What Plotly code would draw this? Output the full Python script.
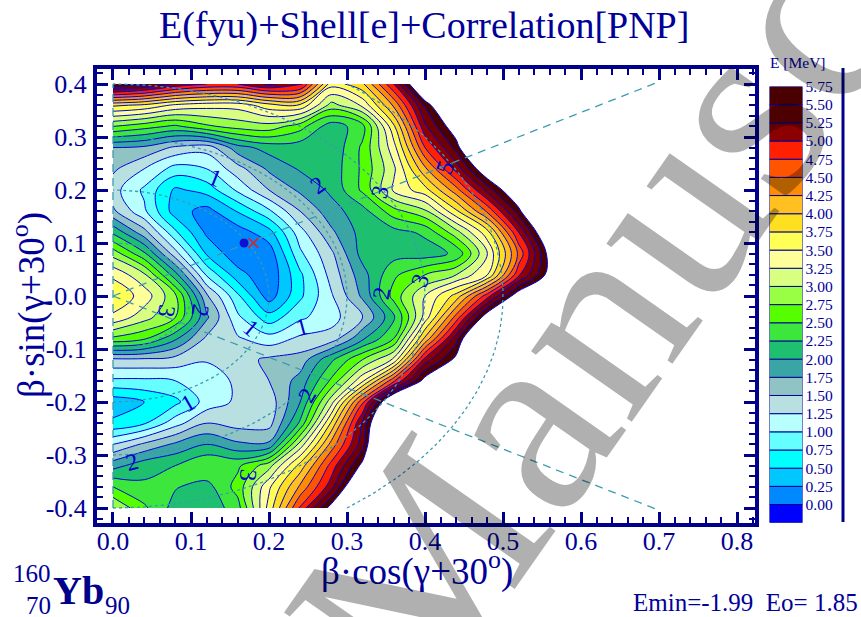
import numpy as np
import plotly.graph_objects as go

W, H = 861, 617
NAVY = "#00008b"
TXT = "#000099"
FONT = "Liberation Serif"

# Grid of the energy surface (columns by x, from y=+0.40 down to y=-0.40)
y_vals = [0.40, 0.36, 0.32, 0.28, 0.24, 0.20, 0.16, 0.12, 0.08, 0.04, 0.0, -0.04, -0.08, -0.12, -0.16, -0.20, -0.24, -0.28, -0.32, -0.36, -0.40]
x_vals = [0.0, 0.04, 0.08, 0.12, 0.16, 0.20, 0.24, 0.28, 0.32, 0.36, 0.40, 0.44, 0.48, 0.52, 0.56, 0.60]
e_x00 = [5.75, 3.8, 2.75, 1.75, 1.55, 1.35, 1.55, 2.2, 2.9, 3.45, 3.7, 3.45, 2.7, 1.45, 0.95, 0.35, 0.55, 1.25, 1.9, 2.5, 3.0]
e_x04 = [5.55, 3.7, 2.6, 1.7, 1.25, 0.95, 1.05, 1.6, 2.3, 3.05, 3.4, 3.1, 2.55, 1.45, 0.95, 0.5, 0.72, 1.55, 2.15, 2.3, 2.55]
e_x08 = [5.2, 3.45, 2.45, 1.45, 0.9, 0.45, 0.37, 0.8, 1.35, 2.1, 2.8, 2.75, 2.05, 1.4, 1.0, 0.68, 1.15, 1.8, 2.25, 2.27, 2.15]
e_x12 = [5.0, 3.35, 2.7, 1.35, 1.0, 0.6, 0.15, 0.2, 0.47, 0.97, 1.55, 1.8, 1.45, 1.28, 1.05, 1.1, 1.5, 2.0, 2.5, 2.15, 2.05]
e_x16 = [5.0, 3.35, 2.85, 1.9, 1.4, 1.05, 0.52, 0.12, 0.07, 0.35, 0.8, 1.05, 1.28, 1.4, 1.32, 1.3, 1.4, 1.8, 2.45, 2.6, 2.4]
e_x20 = [5.3, 3.65, 2.9, 2.1, 1.8, 1.5, 0.95, 0.4, 0.1, 0.05, 0.12, 0.6, 1.1, 1.55, 1.5, 1.35, 1.4, 1.8, 2.9, 3.45, 3.6]
e_x24 = [5.1, 3.7, 2.6, 2.1, 2.03, 1.8, 1.5, 1.15, 0.95, 0.7, 0.7, 0.95, 1.3, 1.6, 1.85, 2.0, 2.3, 3.1, 3.85, 4.3, 4.8]
e_x28 = [3.6, 2.9, 2.1, 2.05, 2.1, 2.05, 1.9, 1.7, 1.45, 1.35, 1.22, 1.15, 1.35, 2.2, 2.55, 3.15, 3.8, 4.35, 4.85, 5.15, 5.9]
e_x32 = [3.95, 3.3, 2.4, 2.55, 2.55, 2.55, 2.15, 2.1, 2.1, 1.9, 1.8, 1.5, 1.95, 2.75, 3.45, 4.7, 5.3, 5.4, 5.85, 6.5, 7.2]
e_x36 = [5.0, 4.3, 3.7, 3.4, 3.2, 3.3, 2.65, 2.15, 2.15, 2.45, 2.6, 2.2, 2.5, 3.3, 4.7, 6.4, 7.0, 7.5, 8.0, 8.5, 9.0]
e_x40 = [6.5, 5.55, 5.2, 4.75, 4.2, 3.65, 2.95, 2.3, 2.12, 2.75, 3.25, 3.35, 4.05, 5.1, 5.9, 7.0, 8.0, 8.5, 9.0, 9.5, 10.0]
e_x44 = [8.0, 6.6, 6.0, 5.6, 5.1, 4.4, 3.7, 2.9, 2.3, 3.0, 3.85, 4.6, 5.4, 5.85, 6.8, 8.0, 9.0, 9.5, 10.0, 10.5, 11.0]
e_x48 = [10.0, 9.0, 8.0, 7.0, 6.1, 5.35, 4.55, 3.65, 3.25, 3.5, 4.9, 6.0, 7.0, 8.0, 9.0, 10.0, 11.0, 11.0, 11.0, 11.0, 11.0]
e_x52 = [11.0, 11.0, 10.0, 9.0, 8.0, 6.2, 5.65, 5.0, 4.55, 4.95, 6.0, 7.0, 8.0, 9.0, 10.0, 11.0, 11.0, 11.0, 11.0, 11.0, 11.0]
e_x56 = [11.0, 11.0, 11.0, 11.0, 10.0, 8.0, 7.0, 6.3, 5.9, 5.9, 7.0, 8.0, 9.0, 10.0, 11.0, 11.0, 11.0, 11.0, 11.0, 11.0, 11.0]
e_x60 = [11.0, 11.0, 11.0, 11.0, 11.0, 10.0, 9.0, 8.0, 8.0, 8.0, 9.0, 10.0, 11.0, 11.0, 11.0, 11.0, 11.0, 11.0, 11.0, 11.0, 11.0]
columns = [e_x00, e_x04, e_x08, e_x12, e_x16, e_x20, e_x24, e_x28, e_x32, e_x36, e_x40, e_x44, e_x48, e_x52, e_x56, e_x60]

# Colour bands, lowest (below 0.00) to highest (5.50-5.75), then white beyond
band_colors = ["#0000ff", "#0088ff", "#00c8ff", "#00ffff", "#66ffff", "#b8ffff", "#b8e0e0", "#90c4c4",
               "#3aa5a5", "#1fbf70", "#3ce63c", "#55ff00", "#99ff44", "#d8ff80", "#ffff99", "#ffff55",
               "#ffe020", "#ffc020", "#ff8c00", "#ff5500", "#ff2000", "#8b0000", "#700000", "#4a0000"]
colorbar_labels = ["0.00", "0.25", "0.50", "0.75", "1.00", "1.25", "1.50", "1.75", "2.00", "2.25", "2.50", "2.75",
                   "3.00", "3.25", "3.50", "3.75", "4.00", "4.25", "4.50", "4.75", "5.00", "5.25", "5.50", "5.75"]
colorbar_vals = [float(s) for s in colorbar_labels]

x_ticks = [0.0, 0.1, 0.2, 0.3, 0.4, 0.5, 0.6, 0.7, 0.8]
x_tick_text = ["0.0", "0.1", "0.2", "0.3", "0.4", "0.5", "0.6", "0.7", "0.8"]
y_ticks = [-0.4, -0.3, -0.2, -0.1, 0.0, 0.1, 0.2, 0.3, 0.4]
y_tick_text = ["-0.4", "-0.3", "-0.2", "-0.1", "0.0", "0.1", "0.2", "0.3", "0.4"]

arc_betas = [0.1, 0.2, 0.3, 0.4, 0.5]
ray_angles = [30, -30]
ray_length = 0.808

min_point = [0.168, 0.100]
cross_point = [0.180, 0.100]

# Where the white area meets the edge of the grid
white_edge_x = [0.385, 0.60, 0.60, 0.285]
white_edge_y = [0.40, 0.40, -0.40, -0.40]

# Contour label: text, x, y, rotation
contour_labels = [
    ("1", 0.131, 0.223, 22), ("2", 0.263, 0.209, -35), ("3", 0.342, 0.196, -75), ("5", 0.426, 0.243, -70),
    ("2", 0.344, 0.006, -80), ("3", 0.394, 0.030, -70), ("1", 0.177, -0.060, 40), ("1", 0.242, -0.058, -15),
    ("3", 0.069, -0.028, 100), ("2", 0.112, -0.028, 100), ("1", 0.096, -0.202, -30), ("2", 0.249, -0.187, -60),
    ("2", 0.024, -0.313, -15), ("3", 0.173, -0.338, 95),
]

fig = go.Figure()

# The scale runs background, one colour per band, then the colour beyond the last level
fills = ["#ffffff"] + band_colors + ["#ffffff"]
scale = [[k / (len(fills) - 1), c] for k, c in enumerate(fills)]
fig.add_trace(go.Contour(
    x=x_vals, y=y_vals, z=np.array(columns).T.tolist(),
    autocontour=False,
    contours=dict(start=-0.25, end=5.75, size=0.25, coloring="fill", showlabels=False),
    colorscale=scale, showscale=False,
    line=dict(color="#0000dd", width=1, smoothing=1.0),
    hoverinfo="skip",
))
fig.add_trace(go.Scatter(x=white_edge_x, y=white_edge_y, mode="lines",
                         line=dict(color="#ffffff", width=2.5), hoverinfo="skip"))

GRID = "#3b9bb0"
for b in arc_betas:
    limit = np.arcsin(min(1.0, 0.4 / b))
    t = np.linspace(-limit, limit, 121)
    fig.add_trace(go.Scatter(x=b * np.cos(t), y=b * np.sin(t), mode="lines",
                             line=dict(color=GRID, width=1.3, dash="3px,3px"), hoverinfo="skip"))
for a in ray_angles:
    r = np.array([0.0, ray_length])
    fig.add_trace(go.Scatter(x=r * np.cos(np.radians(a)), y=r * np.sin(np.radians(a)), mode="lines",
                             line=dict(color=GRID, width=1.3, dash="8px,6px"), hoverinfo="skip"))
fig.add_trace(go.Scatter(x=[0, 0], y=[-0.4, 0.4], mode="lines",
                         line=dict(color=GRID, width=1.3, dash="8px,6px"), hoverinfo="skip"))

fig.add_trace(go.Scatter(x=[min_point[0]], y=[min_point[1]], mode="markers",
                         marker=dict(color="#1010d0", size=9, symbol="circle"), hoverinfo="skip"))
fig.add_trace(go.Scatter(x=[cross_point[0]], y=[cross_point[1]], mode="markers",
                         marker=dict(color="#e02020", size=10, symbol="x-thin", line=dict(color="#e02020", width=1.5)),
                         hoverinfo="skip"))

# Colour bar drawn as a stack of bars on its own axes
n = len(band_colors)
fig.add_trace(go.Bar(
    x=[0] * n, y=[0.25] * n, base=[v - 0.25 for v in colorbar_vals], width=1,
    marker=dict(color=band_colors, line=dict(color="#000099", width=1)),
    xaxis="x2", yaxis="y2", hoverinfo="skip",
))

ann = []
def text(x, y, s, size, anchor="center", color=TXT, angle=0):
    ann.append(dict(x=x / W, y=1 - y / H, xref="paper", yref="paper", text=s, showarrow=False,
                    xanchor=anchor, yanchor="middle", textangle=angle,
                    font=dict(family=FONT, size=size, color=color)))

text(424, 25, "E(fyu)+Shell[e]+Correlation[PNP]", 38)
text(29, 305, "β·sin(γ+30<sup>o</sup>)", 37, angle=-90)
text(417, 569, "β·cos(γ+30<sup>o</sup>)", 37)
text(53, 573, "160", 25, "right")
text(53, 605, "70", 25, "right")
text(51, 590, "<b>Yb</b>", 40, "left", NAVY)
text(103, 605, "90", 25, "left")
text(860, 602, "Emin=-1.99  Eo= 1.85", 25, "right")
text(798, 62, "E [MeV]", 15.5)

for s, x, y, a in contour_labels:
    ann.append(dict(x=x, y=y, xref="x", yref="y", text=s, showarrow=False, textangle=a,
                    font=dict(family=FONT, size=24, color="#0000cc")))

# Watermark
ann.append(dict(x=592 / W, y=1 - 320 / H, xref="paper", yref="paper", text="Manusc", showarrow=False,
                textangle=-55, xanchor="center", yanchor="middle",
                font=dict(family=FONT, size=268, color="rgba(0,0,0,0.31)")))

axis_common = dict(showgrid=False, zeroline=False, showline=True, linecolor=NAVY, linewidth=4,
                   mirror="allticks", ticks="inside", ticklen=11, tickwidth=2.5, tickcolor=NAVY,
                   tickmode="array", tickfont=dict(family=FONT, size=26, color=TXT),
                   minor=dict(ticks="inside", ticklen=6, tickwidth=2, tickcolor=NAVY, tickmode="linear", tick0=0, dtick=0.02))

fig.update_layout(
    width=W, height=H, margin=dict(l=0, r=0, t=0, b=0, autoexpand=False), autosize=False,
    paper_bgcolor="white", plot_bgcolor="white", showlegend=False, barmode="overlay",
    xaxis=dict(domain=[97 / W, 754.5 / W], range=[-0.0205, 0.8224], tickvals=x_ticks, ticktext=x_tick_text,
               ticklabelstandoff=-8, **axis_common),
    yaxis=dict(domain=[1 - 523 / H, 1 - 69 / H], range=[-0.4283, 0.4283], tickvals=y_ticks, ticktext=y_tick_text,
               ticklabelstandoff=1, **axis_common),
    xaxis2=dict(domain=[769.5 / W, 802.5 / W], range=[-0.5, 0.5], showticklabels=False, showgrid=False, zeroline=False,
                ticks="", anchor="y2", fixedrange=True),
    yaxis2=dict(domain=[1 - 522.7 / H, 1 - 86.5 / H], range=[-0.25, 5.75], side="right", anchor="x2",
                showgrid=False, zeroline=False, ticks="", tickmode="array", tickvals=colorbar_vals, ticktext=colorbar_labels,
                tickfont=dict(family=FONT, size=15.5, color=TXT), ticklabelstandoff=2, fixedrange=True),
    annotations=ann,
    shapes=[dict(type="line", xref="paper", yref="paper", x0=843 / W, x1=843 / W, y0=1 - 522 / H, y1=1 - 68 / H,
                 line=dict(color=NAVY, width=3))],
)

fig.write_html("out.html", config=dict(displayModeBar=False),
               post_script="document.body.style.margin='0';document.body.style.overflow='hidden';")
